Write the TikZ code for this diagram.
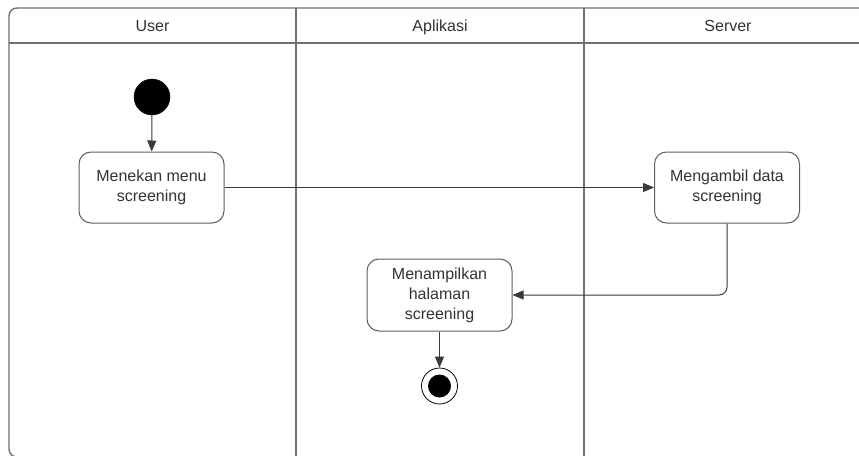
\documentclass[tikz,border=0pt]{standalone}
\usepackage{fontspec}
\setmainfont{Liberation Sans}
\usetikzlibrary{arrows.meta}
\definecolor{txt}{HTML}{333333}
\definecolor{boxc}{HTML}{5E5E5E}
\definecolor{lanec}{HTML}{707070}
\definecolor{arrc}{HTML}{3A3A3A}
\tikzset{
  act/.style={draw=boxc, line width=1pt, rounded corners=12pt, minimum width=145pt, minimum height=71pt, align=center, text=txt, font=\fontsize{16}{20}\selectfont, inner sep=0pt},
  lane/.style={draw=lanec, line width=1.4pt},
  hdr/.style={text=txt, font=\fontsize{16}{20}\selectfont, inner sep=0pt, anchor=base},
  flow/.style={draw=arrc, line width=1pt, -{Triangle[length=11pt,width=9pt]}},
}
\begin{document}
\begin{tikzpicture}[x=1pt,y=-1pt]
\useasboundingbox (0,0) rectangle (859,455);
\clip (0,0) rectangle (859,455);
\fill[white] (0,0) rectangle (859,455);
% frame
\draw[lane, rounded corners=8pt] (9,8) rectangle (873,457);
\draw[lane] (9,43) -- (873,43);
\draw[lane] (296,8) -- (296,457);
\draw[lane] (584,8) -- (584,457);
% headers
\node[hdr] (hU) at (152.5,31) {User};
\node[hdr] (hA) at (440,31) {Aplikasi};
\node[hdr] (hS) at (728,31) {Server};
% nodes
\node[circle, fill=black, draw=black, minimum size=36pt, inner sep=0pt] (start) at (152,97) {};
\node[act] (a1) at (151.5,187.5) {Menekan menu\\screening};
\node[act] (a2) at (727,187.5) {Mengambil data\\screening};
\node[act, minimum height=72pt] (a3) at (439.5,295) {Menampilkan\\halaman\\screening};
\node[circle, draw=black, line width=0.8pt, fill=white, minimum size=36pt, inner sep=0pt] (end) at (439.5,386) {};
\node[circle, fill=black, minimum size=23pt, inner sep=0pt] (endin) at (end.center) {};
% flows
\draw[flow] (start) -- (a1);
\draw[flow] (a1) -- (a2);
\draw[flow, rounded corners=8pt] (a2.south) |- (a3.east);
\draw[flow] (a3) -- (end);
\end{tikzpicture}
\end{document}
